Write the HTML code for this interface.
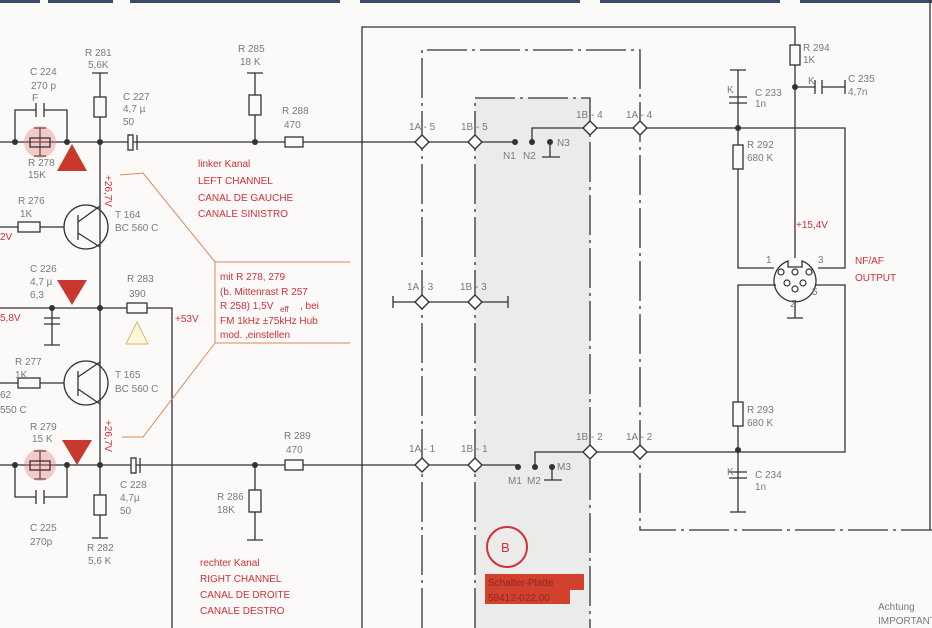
<!DOCTYPE html>
<html><head><meta charset="utf-8"><style>
html,body{margin:0;padding:0;background:#fbfaf8;}
svg{display:block}
text{font-family:"Liberation Sans",sans-serif;font-size:10px;fill:#7a7a7a;}
.r{fill:#d0303a;}
</style></head><body>
<svg width="932" height="628" viewBox="0 0 932 628" xmlns="http://www.w3.org/2000/svg">
<rect width="932" height="628" fill="#fbfaf8"/>
<g fill="#3a4a6a"><rect x="0" y="0" width="40" height="3"/><rect x="48" y="0" width="65" height="3"/><rect x="130" y="0" width="210" height="3"/><rect x="360" y="0" width="220" height="3"/><rect x="600" y="0" width="180" height="3"/><rect x="800" y="0" width="132" height="3"/></g>
<rect x="475" y="98" width="115" height="530" fill="#ebebe9"/>
<g stroke="#333" stroke-width="1.3" fill="none">
<path d="M362 628V27H795V258"/>
<path d="M422 628V50H640V530H932" stroke-dasharray="40 5 3 5"/>
<path d="M930 0V530"/>
<path d="M475 628V98H590V628" stroke-dasharray="40 5 3 5"/>
<path d="M0 142H515"/>
<path d="M532 142V128H845V268H818"/>
<path d="M550 142V157M542 157H560"/>
<path d="M393 302H508M393 296V308M508 296V308"/>
<path d="M0 465H518"/>
<path d="M535 467V452H845V285H816"/>
<path d="M552 467V480M544 480H562"/>
<path d="M738 70V128M730 70H746M729 97H747M729 103H747"/>
<path d="M738 128V268H774"/>
<path d="M738 450V285H776"/>
<path d="M738 450V512M730 512H746M729 472H747M729 478H747"/>
<path d="M795 87H815M822 87H845M815 80V94M822 80V94M845 80V94"/>
<path d="M795 300V318M787 318H803"/>
<path d="M15 142V110H36M44 110H67V142M36 103V117M44 103V117"/>
<path d="M15 465V497H36M44 497H67V465M36 490V504M44 490V504"/>
<path d="M100 73V465M92 73H108"/>
<path d="M255 73V142M247 73H263"/>
<path d="M100 465V538M92 538H108"/>
<path d="M255 465V540M247 540H263"/>
<path d="M0 308H172V628"/>
<path d="M52 308V345M44 345H60M44 318H60M44 324H60"/>
<path d="M0 227H64M0 383H64"/>
<path d="M40 142V128M40 142V156M34 156H46M34 128H46"/>
<path d="M40 465V451M40 465V479M34 479H46M34 451H46"/>
<circle cx="86" cy="227" r="22"/><path d="M78 215V240M78 222L100 206M78 233L100 247"/>
<circle cx="86" cy="383" r="22"/><path d="M78 371V396M78 377L100 362M78 389L100 404"/>
<path d="M788 261A21 21 0 1 0 802 261V267H788Z"/>
</g>
<g stroke="#333" stroke-width="1.3" fill="#fbfaf8">
<rect x="128" y="135" width="5" height="15"/><path d="M137 135V150"/>
<rect x="131" y="458" width="5" height="15"/><path d="M140 458V473"/>
<rect x="94" y="97" width="12" height="20"/><rect x="249" y="95" width="12" height="20"/>
<rect x="285" y="137" width="18" height="10"/><rect x="285" y="460" width="18" height="10"/>
<rect x="94" y="495" width="12" height="20"/><rect x="249" y="490" width="12" height="22"/>
<rect x="18" y="222" width="22" height="10"/><rect x="18" y="378" width="22" height="10"/>
<rect x="127" y="303" width="20" height="10"/>
<rect x="733" y="145" width="10" height="24"/><rect x="733" y="402" width="10" height="24"/>
<rect x="790" y="45" width="10" height="20"/>
</g>
<circle cx="40" cy="142" r="16" fill="#e67070" opacity="0.35"/>
<circle cx="40" cy="465" r="16" fill="#e67070" opacity="0.35"/>
<rect x="30" y="138" width="20" height="9" fill="none" stroke="#333" stroke-width="1.3"/>
<rect x="30" y="461" width="20" height="9" fill="none" stroke="#333" stroke-width="1.3"/>
<g fill="#fff" stroke="#333" stroke-width="1.2"><circle cx="781" cy="272" r="3"/><circle cx="795" cy="272" r="3"/><circle cx="809" cy="272" r="3"/><circle cx="787" cy="283" r="3"/><circle cx="795" cy="289" r="3"/><circle cx="803" cy="283" r="3"/></g>
<g fill="#333"><circle cx="15" cy="142" r="3"/><circle cx="67" cy="142" r="3"/><circle cx="100" cy="142" r="3"/><circle cx="255" cy="142" r="3"/>
<circle cx="15" cy="465" r="3"/><circle cx="67" cy="465" r="3"/><circle cx="100" cy="465" r="3"/><circle cx="255" cy="465" r="3"/>
<circle cx="52" cy="308" r="3"/><circle cx="100" cy="308" r="3"/>
<circle cx="515" cy="142" r="3"/><circle cx="532" cy="142" r="3"/><circle cx="550" cy="142" r="3"/>
<circle cx="518" cy="467" r="3"/><circle cx="535" cy="467" r="3"/><circle cx="552" cy="467" r="3"/>
<circle cx="738" cy="128" r="3"/><circle cx="795" cy="87" r="3"/><circle cx="738" cy="450" r="3"/></g>
<g fill="#fff" stroke="#333" stroke-width="1.4">
<path d="M422 135L429 142L422 149L415 142Z"/><path d="M475 135L482 142L475 149L468 142Z"/>
<path d="M590 121L597 128L590 135L583 128Z"/><path d="M640 121L647 128L640 135L633 128Z"/>
<path d="M422 295L429 302L422 309L415 302Z"/><path d="M475 295L482 302L475 309L468 302Z"/>
<path d="M422 458L429 465L422 472L415 465Z"/><path d="M475 458L482 465L475 472L468 465Z"/>
<path d="M590 445L597 452L590 459L583 452Z"/><path d="M640 445L647 452L640 459L633 452Z"/>
</g>
<g fill="#c8382c"><path d="M72 144L87 171L57 171Z"/><path d="M57 280L87 280L72 305Z"/><path d="M62 440L92 440L77 465Z"/></g>
<path d="M137 322L148 344L126 344Z" fill="#fff8d8" stroke="#e0b070" stroke-width="1"/>
<g stroke="#d88a60" stroke-width="1" fill="none"><path d="M120 175L143 173L215 262H350M215 262V343H350M215 343L143 437L122 437"/></g>
<circle cx="507" cy="547" r="20" fill="none" stroke="#d0303a" stroke-width="2"/>
<text x="501" y="552" class="r" style="font-size:13px">B</text>
<rect x="485" y="574" width="99" height="16" fill="#d2402e"/><rect x="485" y="590" width="85" height="14" fill="#d2402e"/>
<text x="488" y="586" style="fill:#8a2a20;font-size:10px">Schalter-Platte</text>
<text x="488" y="601" style="fill:#8a2a20;font-size:10px">59412-022.00</text>
<text x="85" y="56">R 281</text><text x="88" y="68">5,6K</text>
<text x="30" y="75">C 224</text><text x="31" y="89">270 p</text><text x="32" y="101">F</text>
<text x="123" y="100">C 227</text><text x="123" y="112">4,7 µ</text><text x="123" y="125">50</text>
<text x="238" y="52">R 285</text><text x="240" y="65">18 K</text>
<text x="282" y="114">R 288</text><text x="284" y="128">470</text>
<text x="28" y="166">R 278</text><text x="28" y="178">15K</text>
<text x="198" y="167" class="r">linker Kanal</text><text x="198" y="184" class="r">LEFT CHANNEL</text><text x="198" y="201" class="r">CANAL DE GAUCHE</text><text x="198" y="217" class="r">CANALE SINISTRO</text>
<text x="18" y="204">R 276</text><text x="20" y="217">1K</text><text x="0" y="240" class="r">2V</text>
<text x="115" y="218">T 164</text><text x="115" y="231">BC 560 C</text>
<text x="30" y="272">C 226</text><text x="30" y="285">4,7 µ</text><text x="30" y="298">6,3</text>
<text x="127" y="282">R 283</text><text x="129" y="297">390</text>
<text x="0" y="321" class="r">5,8V</text><text x="175" y="322" class="r">+53V</text>
<text x="220" y="280" class="r">mit R 278, 279</text><text x="220" y="295" class="r">(b. Mittenrast R 257</text><text x="220" y="309" class="r">R 258) 1,5V</text><text x="280" y="312" class="r" style="font-size:8px">eff</text><text x="300" y="309" class="r">, bei</text>
<text x="220" y="324" class="r">FM 1kHz  ±75kHz Hub</text><text x="220" y="338" class="r">mod. ,einstellen</text>
<text x="15" y="365">R 277</text><text x="15" y="378">1K</text><text x="0" y="398">62</text><text x="0" y="413">550 C</text>
<text x="115" y="378">T 165</text><text x="115" y="392">BC 560 C</text>
<text x="30" y="430">R 279</text><text x="32" y="442">15 K</text>
<text x="30" y="531">C 225</text><text x="30" y="545">270p</text>
<text x="120" y="488">C 228</text><text x="120" y="501">4,7µ</text><text x="120" y="514">50</text>
<text x="87" y="551">R 282</text><text x="88" y="564">5,6 K</text>
<text x="217" y="500">R 286</text><text x="217" y="513">18K</text>
<text x="284" y="439">R 289</text><text x="286" y="453">470</text>
<text x="200" y="566" class="r">rechter Kanal</text><text x="200" y="582" class="r">RIGHT CHANNEL</text><text x="200" y="598" class="r">CANAL DE DROITE</text><text x="200" y="614" class="r">CANALE DESTRO</text>
<g transform="rotate(90 108 175)"><text x="108" y="178" class="r">+26,7V</text></g>
<g transform="rotate(90 108 420)"><text x="108" y="423" class="r">+26,7V</text></g>
<text x="409" y="130">1A - 5</text><text x="461" y="130">1B - 5</text><text x="576" y="118">1B - 4</text><text x="626" y="118">1A - 4</text>
<text x="503" y="159">N1</text><text x="523" y="159">N2</text><text x="557" y="146">N3</text>
<text x="407" y="290">1A - 3</text><text x="460" y="290">1B - 3</text>
<text x="409" y="452">1A - 1</text><text x="461" y="452">1B - 1</text><text x="576" y="440">1B - 2</text><text x="626" y="440">1A - 2</text>
<text x="508" y="484">M1</text><text x="527" y="484">M2</text><text x="557" y="470">M3</text>
<text x="803" y="51">R 294</text><text x="803" y="63">1K</text>
<text x="755" y="96">C 233</text><text x="755" y="107">1n</text><text x="727" y="93">K</text>
<text x="848" y="82">C 235</text><text x="848" y="95">4,7n</text><text x="808" y="84">K</text>
<text x="747" y="148">R 292</text><text x="747" y="161">680 K</text>
<text x="796" y="228" class="r">+15,4V</text>
<text x="766" y="263">1</text><text x="818" y="263">3</text><text x="812" y="295">5</text><text x="790" y="307">2</text>
<text x="855" y="264" class="r">NF/AF</text><text x="855" y="281" class="r">OUTPUT</text>
<text x="747" y="413">R 293</text><text x="747" y="426">680 K</text>
<text x="755" y="478">C 234</text><text x="755" y="490">1n</text><text x="727" y="475">K</text>
<text x="878" y="610">Achtung</text><text x="878" y="624">IMPORTANT</text>
</svg>
</body></html>
